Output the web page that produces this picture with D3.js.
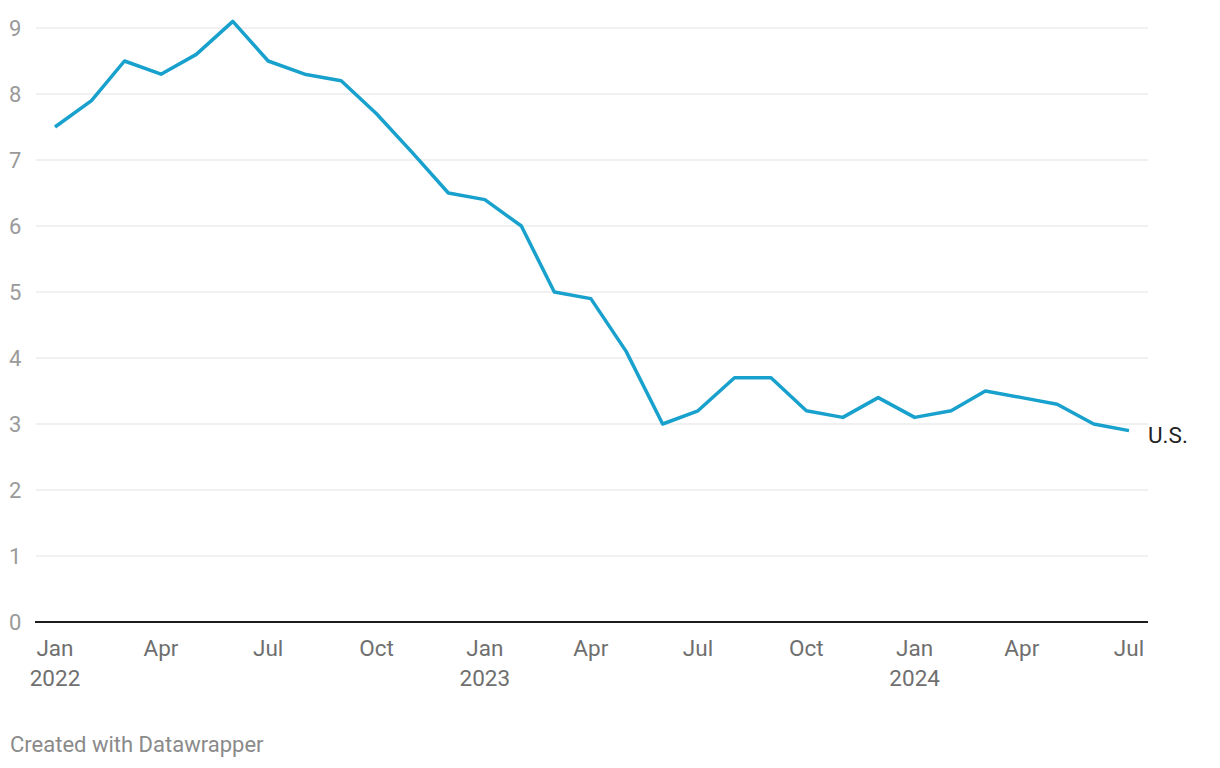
<!DOCTYPE html>
<html>
<head>
<meta charset="utf-8">
<script src="https://cdn.jsdelivr.net/npm/d3@7"></script>
<style>
  body { margin: 0; background: #fff; font-family: Roboto, "Noto Sans", sans-serif; }
</style>
</head>
<body>
<div id="chart"></div>
<script>
// monthly values, Jan 2022 .. Jul 2024
const months = ["2022-01","2022-02","2022-03","2022-04","2022-05","2022-06","2022-07","2022-08","2022-09","2022-10","2022-11","2022-12",
  "2023-01","2023-02","2023-03","2023-04","2023-05","2023-06","2023-07","2023-08","2023-09","2023-10","2023-11","2023-12",
  "2024-01","2024-02","2024-03","2024-04","2024-05","2024-06","2024-07"];
const usValues = [7.5, 7.9, 8.5, 8.3, 8.6, 9.1, 8.5, 8.3, 8.2, 7.7, 7.1, 6.5,
  6.4, 6.0, 5.0, 4.9, 4.1, 3.0, 3.2, 3.7, 3.7, 3.2, 3.1, 3.4,
  3.1, 3.2, 3.5, 3.4, 3.3, 3.0, 2.9];
const yTicks = [0, 1, 2, 3, 4, 5, 6, 7, 8, 9];
const xTicks = ["2022-01","2022-04","2022-07","2022-10","2023-01","2023-04","2023-07","2023-10","2024-01","2024-04","2024-07"];
const seriesLabel = "U.S.";

(function() {
    const width = 1220;
    const height = 768;
    const parse = d3.timeParse("%Y-%m");

    const svg = d3.select("#chart")
        .append("svg")
        .attr("width", width)
        .attr("height", height);

    const x = d3.scaleTime()
        .domain([parse(months[0]), parse(months[months.length - 1])])
        .range([55, 1129]);
    const y = d3.scaleLinear().domain([0, 9]).range([622, 28]);

    // gridlines
    svg.append("g")
        .selectAll("line")
        .data(yTicks.filter(d => d > 0))
        .join("line")
        .attr("x1", 36).attr("x2", 1148)
        .attr("y1", d => y(d)).attr("y2", d => y(d))
        .attr("stroke", "#e2e2e2")
        .attr("stroke-width", 1);

    // y labels
    svg.append("g")
        .selectAll("text")
        .data(yTicks)
        .join("text")
        .attr("x", 9)
        .attr("y", d => y(d))
        .attr("dy", "0.36em")
        .attr("fill", "#9a9a9a")
        .style("font-size", "22px")
        .text(d => d);

    // baseline
    svg.append("line")
        .attr("x1", 35).attr("x2", 1148)
        .attr("y1", y(0)).attr("y2", y(0))
        .attr("stroke", "#1d1d1d")
        .attr("stroke-width", 2);

    // x labels
    const xl = svg.append("g")
        .selectAll("text")
        .data(xTicks)
        .join("text")
        .attr("x", d => x(parse(d)))
        .attr("y", 656)
        .attr("text-anchor", "middle")
        .attr("fill", "#6f6f6f")
        .style("font-size", "22.5px");
    xl.append("tspan")
        .attr("x", d => x(parse(d)))
        .text(d => d3.timeFormat("%b")(parse(d)));
    xl.filter(d => d.endsWith("-01"))
        .append("tspan")
        .attr("x", d => x(parse(d)))
        .attr("dy", 30)
        .text(d => d.slice(0, 4));

    // line
    const line = d3.line()
        .x((d, i) => x(parse(months[i])))
        .y(d => y(d));
    svg.append("path")
        .datum(usValues)
        .attr("fill", "none")
        .attr("stroke", "#18a1cd")
        .attr("stroke-width", 3.5)
        .attr("stroke-linejoin", "round")
        .attr("d", line);

    // series label
    svg.append("text")
        .attr("x", x(parse(months[months.length - 1])) + 19)
        .attr("y", y(usValues[usValues.length - 1]) + 4)
        .attr("dy", "0.36em")
        .attr("fill", "#222")
        .style("font-size", "22.5px")
        .text(seriesLabel);

    // footer
    svg.append("text")
        .attr("x", 10)
        .attr("y", 752)
        .attr("fill", "#8a8a8a")
        .style("font-size", "22px")
        .text("Created with Datawrapper");
})();
</script>
</body>
</html>
